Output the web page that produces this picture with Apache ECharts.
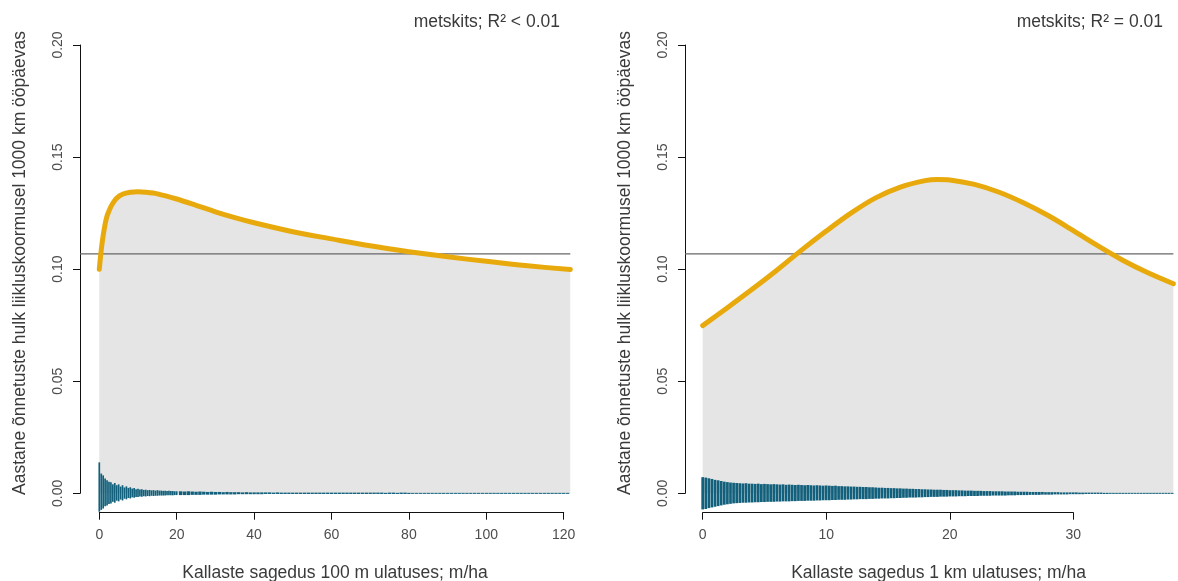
<!DOCTYPE html>
<html><head><meta charset="utf-8">
<script src="https://cdn.jsdelivr.net/npm/echarts@6/dist/echarts.min.js"></script>
<style>html,body{margin:0;padding:0;background:#fff}#c{width:1178px;height:581px}</style>
</head><body><div id="c"></div>
<script>
// ---------- texts ----------
const panelTitles = ['metskits; R\u00B2 < 0.01', 'metskits; R\u00B2 = 0.01'];
const xTitles = ['Kallaste sagedus 100 m ulatuses; m/ha', 'Kallaste sagedus 1 km ulatuses; m/ha'];
const yTitle = 'Aastane õnnetuste hulk liikluskoormusel 1000 km ööpäevas';

// ---------- axis ticks ----------
const yTicks = [0, 0.05, 0.10, 0.15, 0.20];
const leftXTicks = [0, 20, 40, 60, 80, 100, 120];
const rightXTicks = [0, 10, 20, 30];

// ---------- mean line ----------
const meanRate = 0.1068;

// ---------- left panel: fitted curve ----------
const leftCurveX = [0, 0.25, 0.5, 0.75, 1, 1.5, 2, 2.8, 3.5, 4.5, 6, 8, 10, 12, 15, 20, 25, 30, 35, 40, 50, 60, 70, 80, 90, 100, 110, 121.7];
const leftCurveY = [0.1000, 0.1045, 0.1085, 0.1120, 0.1150, 0.1200, 0.1237, 0.1272, 0.1294, 0.1317, 0.1334, 0.1343, 0.1345, 0.1343, 0.1336, 0.1313, 0.1285, 0.1256, 0.1230, 0.1207, 0.1167, 0.1135, 0.1104, 0.1078, 0.1055, 0.1035, 0.1016, 0.0998];

// ---------- left panel: bars (head every 0.5, tail every 1) ----------
const leftHeadStart = 0, leftHeadStep = 0.5;
const leftHeadUp = [0.0138, 0.0088, 0.0080, 0.0066, 0.0058, 0.0052, 0.0049, 0.0040, 0.0046, 0.0036,
  0.0040, 0.0030, 0.0036, 0.0026, 0.0031, 0.0024, 0.0027, 0.0021, 0.0024, 0.0018,
  0.0020, 0.0017, 0.0018, 0.0015, 0.0016, 0.0014, 0.0015, 0.0013, 0.0014, 0.0012,
  0.0014, 0.0012, 0.0012, 0.0011, 0.0011, 0.0010, 0.0011, 0.0010, 0.0010, 0.0009, 0.0009];
const leftHeadDown = [-0.0082, -0.0074, -0.0068, -0.0058, -0.0054, -0.0048, -0.0046, -0.0038, -0.0042, -0.0033,
  -0.0036, -0.0028, -0.0032, -0.0024, -0.0027, -0.0021, -0.0023, -0.0018, -0.0020, -0.0016,
  -0.0017, -0.0014, -0.0015, -0.0013, -0.0014, -0.0012, -0.0013, -0.0011, -0.0012, -0.0011,
  -0.0011, -0.0010, -0.0010, -0.0010, -0.0010, -0.0009, -0.0009, -0.0009, -0.0009, -0.0008, -0.0008];
const leftTailStart = 21, leftTailStep = 1;
const leftTailUp = [0.0009, 0.0008, 0.0009, 0.0008, 0.0007, 0.0008, 0.0007, 0.0006, 0.0007, 0.0006,
  0.0006, 0.0005, 0.0006, 0.0005, 0.0005, 0.0005, 0.0004, 0.0005, 0.0004, 0.0004,
  0.0004, 0.0004, 0.0004, 0.0004, 0.0003, 0.0004, 0.0003, 0.0003, 0.0003, 0.0003,
  0.0003, 0.0003, 0.0003, 0.0003, 0.0003, 0.0003, 0.0003, 0.0003, 0.0003, 0.0003,
  0.0003, 0.0003, 0.0003, 0.0003, 0.0003, 0.0003, 0.0003, 0.0003, 0.0003, 0.0003,
  0.0003, 0.0003, 0.0003, 0.0002, 0.0003, 0.0003, 0.0002, 0.0003, 0.0003, 0.0002,
  0.0002, 0.0002, 0.0002, 0.0002, 0.0002, 0.0002, 0.0002, 0.0002, 0.0002, 0.0002,
  0.0002, 0.0002, 0.0002, 0.0002, 0.0002, 0.0002, 0.0002, 0.0002, 0.0002, 0.0002,
  0.0002, 0.0002, 0.0002, 0.0002, 0.0002, 0.0002, 0.0002, 0.0002, 0.0002, 0.0002,
  0.0002, 0.0002, 0.0002, 0.0002, 0.0002, 0.0002, 0.0002, 0.0002, 0.0002, 0.0002, 0.0002];
const leftTailDown = [-0.0008, -0.0008, -0.0008, -0.0007, -0.0007, -0.0007, -0.0006, -0.0006, -0.0006, -0.0006,
  -0.0005, -0.0005, -0.0005, -0.0005, -0.0005, -0.0004, -0.0004, -0.0004, -0.0004, -0.0004,
  -0.0004, -0.0004, -0.0003, -0.0003, -0.0003, -0.0003, -0.0003, -0.0003, -0.0003, -0.0003,
  -0.0003, -0.0003, -0.0003, -0.0003, -0.0003, -0.0003, -0.0003, -0.0003, -0.0003, -0.0003,
  -0.0003, -0.0003, -0.0003, -0.0003, -0.0003, -0.0003, -0.0003, -0.0003, -0.0003, -0.0003,
  -0.0003, -0.0003, -0.0003, -0.0003, -0.0003, -0.0003, -0.0003, -0.0003, -0.0003, -0.0003,
  -0.0002, -0.0002, -0.0002, -0.0002, -0.0002, -0.0002, -0.0002, -0.0002, -0.0002, -0.0002,
  -0.0002, -0.0002, -0.0002, -0.0002, -0.0002, -0.0002, -0.0002, -0.0002, -0.0002, -0.0002,
  -0.0002, -0.0002, -0.0002, -0.0002, -0.0002, -0.0002, -0.0002, -0.0002, -0.0002, -0.0002,
  -0.0002, -0.0002, -0.0002, -0.0002, -0.0002, -0.0002, -0.0002, -0.0002, -0.0002, -0.0002, -0.0002];

// ---------- right panel: fitted curve ----------
const rightCurveX = [0, 2, 4, 6, 8, 10, 12, 14, 16, 18, 19, 20, 22, 24, 26, 28, 30, 32, 34, 36, 38.1];
const rightCurveY = [0.0748, 0.0828, 0.0910, 0.0995, 0.1085, 0.1170, 0.1250, 0.1318, 0.1366, 0.1395, 0.1400, 0.1398, 0.1378, 0.1343, 0.1295, 0.1238, 0.1172, 0.1104, 0.1040, 0.0985, 0.0935];

// ---------- right panel: bars (every 0.25) ----------
const rightBarStart = 0, rightBarStep = 0.25;
const rightBarUp = [0.0072, 0.0070, 0.0067, 0.0064, 0.0060,
  0.0058, 0.0055, 0.0052, 0.0050,  0.0048, 0.0047, 0.0046, 0.0045,  0.0044, 0.0045, 0.0043, 0.0043,
  0.0042, 0.0043, 0.0041, 0.0042,  0.0041, 0.0040, 0.0041, 0.0040,  0.0039, 0.0040, 0.0038, 0.0039,
  0.0038, 0.0037, 0.0038, 0.0037,  0.0036, 0.0037, 0.0036, 0.0035,  0.0036, 0.0035, 0.0034, 0.0035,
  0.0034, 0.0033, 0.0034, 0.0032,  0.0032, 0.0031, 0.0031, 0.0030,  0.0030, 0.0029, 0.0029, 0.0028,
  0.0028, 0.0027, 0.0027, 0.0026,  0.0025, 0.0025, 0.0024, 0.0024,  0.0023, 0.0023, 0.0022, 0.0022,
  0.0021, 0.0021, 0.0020, 0.0020,  0.0019, 0.0019, 0.0018, 0.0018,  0.0017, 0.0017, 0.0016, 0.0016,
  0.0016, 0.0015, 0.0015, 0.0014,  0.0014, 0.0014, 0.0013, 0.0013,  0.0012, 0.0012, 0.0012, 0.0011,
  0.0011, 0.0011, 0.0010, 0.0010,  0.0010, 0.0009, 0.0009, 0.0009,  0.0009, 0.0008, 0.0008, 0.0008,
  0.0008, 0.0007, 0.0007, 0.0007,  0.0007, 0.0006, 0.0006, 0.0006,  0.0006, 0.0006, 0.0005, 0.0005,
  0.0005, 0.0005, 0.0005, 0.0004,  0.0004, 0.0004, 0.0004, 0.0004,  0.0004, 0.0003, 0.0003, 0.0003,
  0.0003, 0.0003, 0.0003, 0.0003,  0.0003, 0.0002, 0.0002, 0.0002,  0.0002, 0.0002, 0.0002, 0.0002,
  0.0002, 0.0002, 0.0002, 0.0002,  0.0002, 0.0002, 0.0002, 0.0002,  0.0002, 0.0002, 0.0002, 0.0002,
  0.0002, 0.0002, 0.0002, 0.0002,  0.0002, 0.0002, 0.0002, 0.0002];
const rightBarDown = [-0.0072, -0.0070, -0.0066, -0.0063, -0.0060,
  -0.0057, -0.0054, -0.0051, -0.0049,  -0.0047, -0.0045, -0.0044, -0.0043,  -0.0042, -0.0042, -0.0041, -0.0041,
  -0.0040, -0.0040, -0.0039, -0.0039,  -0.0038, -0.0038, -0.0038, -0.0037,  -0.0037, -0.0036, -0.0036, -0.0036,
  -0.0035, -0.0035, -0.0034, -0.0034,  -0.0034, -0.0033, -0.0033, -0.0033,  -0.0032, -0.0032, -0.0031, -0.0031,
  -0.0031, -0.0030, -0.0030, -0.0029,  -0.0029, -0.0029, -0.0028, -0.0028,  -0.0027, -0.0027, -0.0026, -0.0026,
  -0.0026, -0.0025, -0.0025, -0.0024,  -0.0024, -0.0023, -0.0023, -0.0023,  -0.0022, -0.0022, -0.0021, -0.0021,
  -0.0020, -0.0020, -0.0019, -0.0019,  -0.0019, -0.0018, -0.0018, -0.0017,  -0.0017, -0.0016, -0.0016, -0.0016,
  -0.0015, -0.0015, -0.0015, -0.0014,  -0.0014, -0.0014, -0.0013, -0.0013,  -0.0013, -0.0012, -0.0012, -0.0012,
  -0.0012, -0.0011, -0.0011, -0.0011,  -0.0011, -0.0010, -0.0010, -0.0010,  -0.0010, -0.0010, -0.0009, -0.0009,
  -0.0009, -0.0008, -0.0008, -0.0008,  -0.0008, -0.0007, -0.0007, -0.0007,  -0.0007, -0.0006, -0.0006, -0.0006,
  -0.0006, -0.0005, -0.0005, -0.0005,  -0.0005, -0.0005, -0.0004, -0.0004,  -0.0004, -0.0004, -0.0004, -0.0003,
  -0.0003, -0.0003, -0.0003, -0.0003,  -0.0003, -0.0003, -0.0003, -0.0002,  -0.0002, -0.0002, -0.0002, -0.0002,
  -0.0002, -0.0002, -0.0002, -0.0002,  -0.0002, -0.0002, -0.0002, -0.0002,  -0.0002, -0.0002, -0.0002, -0.0002,
  -0.0002, -0.0002, -0.0002, -0.0002];

// ---------- styling / layout (pixels) ----------
const FONT = '"Liberation Sans", Arial, Helvetica, sans-serif';
const ORANGE = '#E8A90C';
const TEAL = '#12607B';
const FILL = '#E5E5E5';
const TICK_TEXT = '#4d4d4d';
const TITLE_TEXT = '#3a3a3a';
const Y0PX = 493.3, YTOPPX = 45, PLOT_BOTTOM = 512.7;
const SMOOTH = 0.3;

const panels = [
  { x0px: 99.3, xEndPx: 563.7, plotLeft: 80, plotRight: 589, ticks: leftXTicks,
    curveX: leftCurveX, curveY: leftCurveY,
    bars: [
      { start: leftHeadStart, step: leftHeadStep, up: leftHeadUp, down: leftHeadDown },
      { start: leftTailStart, step: leftTailStep, up: leftTailUp, down: leftTailDown }
    ] },
  { x0px: 702.7, xEndPx: 1073.3, plotLeft: 685, plotRight: 1178, ticks: rightXTicks,
    curveX: rightCurveX, curveY: rightCurveY,
    bars: [ { start: rightBarStart, step: rightBarStep, up: rightBarUp, down: rightBarDown } ] }
];

function barRender(params, api) {
  const x = api.value(0), lo = api.value(1), hi = api.value(2), w = api.value(3);
  const a = api.coord([x, hi]);
  const b = api.coord([x, lo]);
  const pw = api.size([w, 0])[0] * 0.88;
  return { type: 'rect', shape: { x: a[0] - pw / 2, y: a[1], width: pw, height: Math.max(b[1] - a[1], 1) },
    style: { fill: TEAL } };
}

const grids = [], xAxes = [], yAxes = [], series = [];
const yMax = yTicks[yTicks.length - 1], yMin = yTicks[0];
const pxPerY = (Y0PX - YTOPPX) / (yMax - yMin);
panels.forEach((p, k) => {
  const xMaxTick = p.ticks[p.ticks.length - 1];
  const xInt = p.ticks[1] - p.ticks[0];
  const pxPerX = (p.xEndPx - p.x0px) / xMaxTick;
  // axis grid (tick range)
  const ag = grids.length;
  grids.push({ left: p.x0px, top: YTOPPX, width: p.xEndPx - p.x0px, height: Y0PX - YTOPPX });
  xAxes.push({ type: 'value', gridIndex: ag, min: 0, max: xMaxTick, interval: xInt, offset: PLOT_BOTTOM - Y0PX,
    axisLine: { show: true, onZero: false, lineStyle: { color: '#111', width: 1 } },
    axisTick: { show: true, length: 7, lineStyle: { color: '#111', width: 1 } },
    axisLabel: { color: TICK_TEXT, fontSize: 14, fontFamily: FONT, margin: 15 },
    splitLine: { show: false } });
  yAxes.push({ type: 'value', gridIndex: ag, min: yMin, max: yMax, interval: 0.05, offset: p.x0px - p.plotLeft,
    axisLine: { show: true, onZero: false, lineStyle: { color: '#111', width: 1 } },
    axisTick: { show: true, length: 7, lineStyle: { color: '#111', width: 1 } },
    axisLabel: { color: TICK_TEXT, fontSize: 14, fontFamily: FONT, margin: 15, rotate: 90,
      formatter: v => v.toFixed(2) },
    splitLine: { show: false } });
  // data grid (full plot region)
  const dg = grids.length;
  grids.push({ left: p.plotLeft, top: YTOPPX, width: p.plotRight - p.plotLeft, height: PLOT_BOTTOM - YTOPPX });
  const dxMin = (p.plotLeft - p.x0px) / pxPerX, dxMax = (p.plotRight - p.x0px) / pxPerX;
  const dyMin = -(PLOT_BOTTOM - Y0PX) / pxPerY;
  xAxes.push({ type: 'value', gridIndex: dg, min: dxMin, max: dxMax, show: false });
  yAxes.push({ type: 'value', gridIndex: dg, min: dyMin, max: yMax, show: false });
  const xi = xAxes.length - 1, yi = yAxes.length - 1;

  const curve = p.curveX.map((x, i) => [x, p.curveY[i]]);
  const xEnd = p.curveX[p.curveX.length - 1];
  // gray area under the curve
  series.push({ type: 'line', xAxisIndex: xi, yAxisIndex: yi, data: curve, smooth: SMOOTH,
    symbol: 'none', clip: false, lineStyle: { width: 0, opacity: 0 },
    areaStyle: { color: FILL, opacity: 1, origin: 0 }, z: 1, silent: true });
  // mean line
  series.push({ type: 'line', xAxisIndex: xi, yAxisIndex: yi, data: [[dxMin, meanRate], [xEnd, meanRate]],
    symbol: 'none', clip: false, lineStyle: { color: '#666', width: 1.2 }, z: 2, silent: true });
  // bars
  const barData = [];
  p.bars.forEach(b => {
    b.up.forEach((u, i) => barData.push([b.start + i * b.step, b.down[i], u, b.step]));
  });
  series.push({ type: 'custom', xAxisIndex: xi, yAxisIndex: yi, data: barData, renderItem: barRender,
    encode: { x: 0, y: [1, 2] }, clip: false, z: 3, silent: true });
  // fitted curve
  series.push({ type: 'line', xAxisIndex: xi, yAxisIndex: yi, data: curve, smooth: SMOOTH,
    symbol: 'none', clip: false, lineStyle: { color: ORANGE, width: 5, cap: 'round', join: 'round' }, z: 4, silent: true });
});

const TF = '17.5px ' + FONT;
const graphic = [
  { type: 'text', x: 560, y: 22, style: { text: panelTitles[0], align: 'right', verticalAlign: 'middle', font: TF, fill: TITLE_TEXT } },
  { type: 'text', x: 1163, y: 22, style: { text: panelTitles[1], align: 'right', verticalAlign: 'middle', font: TF, fill: TITLE_TEXT } },
  { type: 'text', x: 335, y: 573, style: { text: xTitles[0], align: 'center', verticalAlign: 'middle', font: TF, fill: TITLE_TEXT } },
  { type: 'text', x: 938.5, y: 573, style: { text: xTitles[1], align: 'center', verticalAlign: 'middle', font: TF, fill: TITLE_TEXT } },
  { type: 'text', x: 20, y: 263, rotation: Math.PI / 2, style: { text: yTitle, align: 'center', verticalAlign: 'middle', font: TF, fill: TITLE_TEXT } },
  { type: 'text', x: 625, y: 263, rotation: Math.PI / 2, style: { text: yTitle, align: 'center', verticalAlign: 'middle', font: TF, fill: TITLE_TEXT } }
];

const chart = echarts.init(document.getElementById('c'), null, { renderer: 'canvas' });
chart.setOption({ animation: false, backgroundColor: '#fff', grid: grids, xAxis: xAxes, yAxis: yAxes, series, graphic });
</script></body></html>
